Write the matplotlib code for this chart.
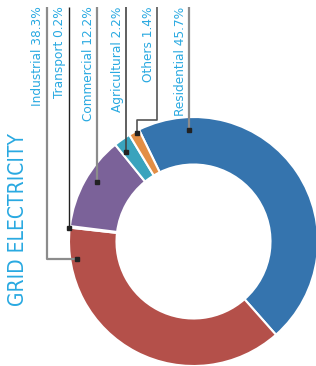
import matplotlib.pyplot as plt
from matplotlib import font_manager as fm

# data
sectors = ["Residential", "Industrial", "Transport", "Commercial", "Agricultural", "Others"]
shares = [45.7, 38.3, 0.2, 12.2, 2.2, 1.4]
colors = ["#3574ae", "#b4504a", "#c5d69b", "#7b6299", "#3aa3bd", "#e38e45"]

# label order along the top (left to right)
label_order = ["Industrial", "Transport", "Commercial", "Agricultural", "Others", "Residential"]

W, H = 316, 366
BLUE = "#29a9e1"

# leader paths in pixel coords (y from top): top of line -> ... -> dot
leaders = {
    "Industrial":   [(47, 7), (47, 259), (77, 259)],
    "Transport":    [(69, 7), (69, 228)],
    "Commercial":   [(97, 7), (97, 182)],
    "Agricultural": [(126, 7), (126, 152)],
    "Others":       [(157, 7), (157, 120), (137, 120), (137, 133)],
    "Residential":  [(189, 7), (189, 130)],
}
line_style = {
    "Industrial": ("#8c8c8c", 1.6),
    "Transport": ("#222222", 1.0),
    "Commercial": ("#8c8c8c", 1.6),
    "Agricultural": ("#444444", 1.2),
    "Others": ("#555555", 1.2),
    "Residential": ("#8c8c8c", 1.6),
}

# pick a narrow font if one is installed
fonts = {(f.name, f.stretch) for f in fm.fontManager.ttflist}
if any(n == "Liberation Sans Narrow" for n, s in fonts):
    font = dict(family="Liberation Sans Narrow")
elif ("DejaVu Sans", "condensed") in fonts or ("DejaVu Sans", 87.5) in fonts:
    font = dict(family="DejaVu Sans", stretch="condensed")
else:
    font = dict(family="Roboto")

fig = plt.figure(figsize=(W / 100, H / 100), dpi=100)
ax = fig.add_axes([0, 0, 1, 1])

cx, cy, r_out, r_in = 193.5, H - 241.5, 124.5, 77
ax.pie(shares, colors=colors, startangle=116, counterclock=False,
       center=(cx, cy), radius=r_out,
       wedgeprops=dict(width=r_out - r_in, edgecolor="white", linewidth=1.5))

for name in label_order:
    val = shares[sectors.index(name)]
    pts = leaders[name]
    col, lw = line_style[name]
    xs = [p[0] for p in pts]
    ys = [H - p[1] for p in pts]
    ax.plot(xs, ys, color=col, lw=lw, solid_capstyle="butt", zorder=3)
    ax.plot(xs[-1], ys[-1], marker="s", ms=2.5, color="#222222", zorder=4)
    ax.text(pts[0][0] - 2.5, H - pts[0][1] + 0.5, f"{name} {val}%", rotation=90,
            ha="right", va="top", color=BLUE, fontsize=9.7, **font)

ax.text(18.5, H - 220, "GRID ELECTRICITY", rotation=90, ha="center", va="center",
        color=BLUE, fontsize=15, **font)

ax.set_xlim(0, W)
ax.set_ylim(0, H)
ax.set_aspect("equal")
ax.axis("off")
fig.savefig("out.png", dpi=100)
